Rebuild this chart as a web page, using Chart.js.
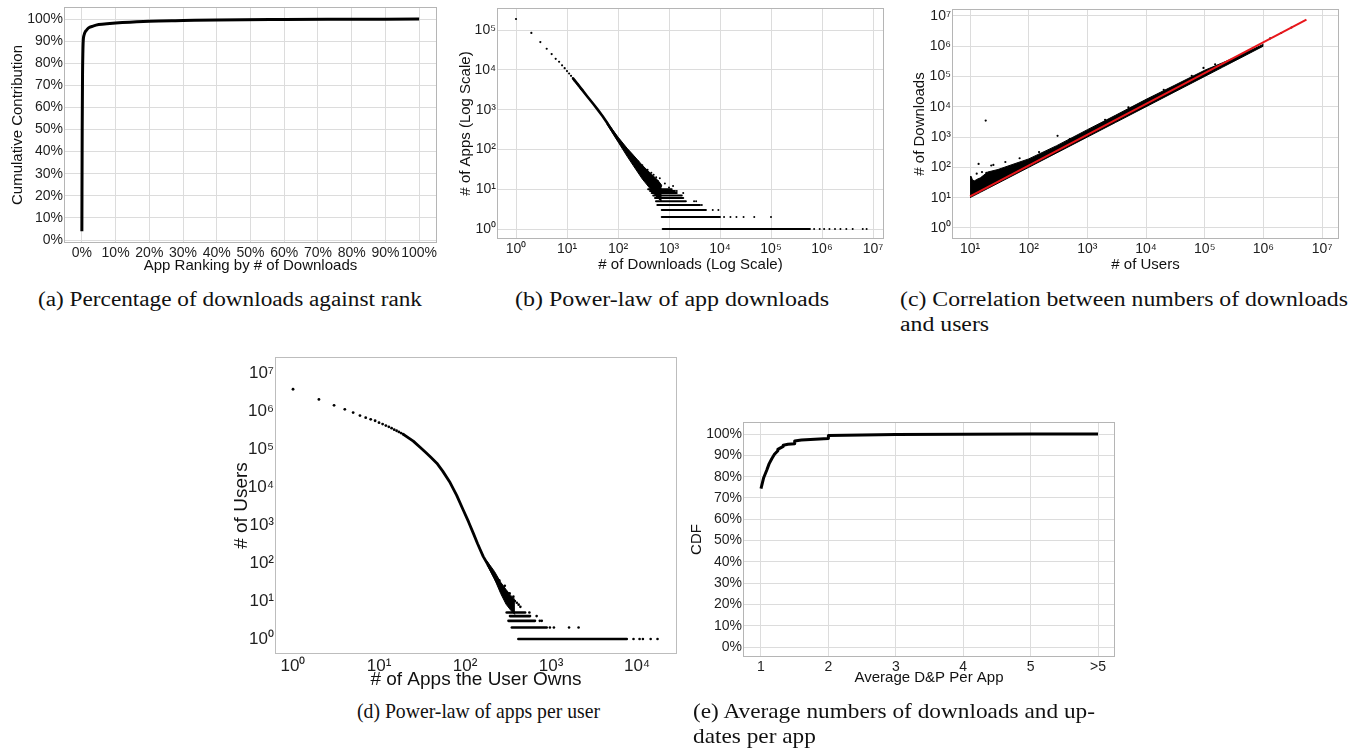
<!DOCTYPE html>
<html><head><meta charset="utf-8">
<script src="https://cdn.jsdelivr.net/npm/chart.js@4/dist/chart.umd.min.js"></script>
<style>
html,body{margin:0;padding:0;background:#fff;width:1359px;height:750px;overflow:hidden;position:relative}
canvas{position:absolute}
.cap{position:absolute;font-family:"Liberation Serif","Times New Roman",serif;font-size:20px;line-height:24px;color:#111;white-space:nowrap;transform-origin:0 0}
.cap.big{font-size:22px}
</style></head><body>
<canvas id="ca" width="445" height="285" style="left:0;top:0"></canvas>
<canvas id="cb" width="445" height="285" style="left:450px;top:0"></canvas>
<canvas id="cc" width="459" height="285" style="left:900px;top:0"></canvas>
<canvas id="cd" width="460" height="350" style="left:230px;top:345px"></canvas>
<canvas id="ce" width="450" height="285" style="left:680px;top:410px"></canvas>

<div class="cap" data-w="384" style="left:38px;top:287px">(a) Percentage of downloads against rank</div>
<div class="cap" data-w="314" style="left:515px;top:287px">(b) Power-law of app downloads</div>
<div class="cap" id="c1" data-w="448" style="left:900px;top:287px">(c) Correlation between numbers of downloads</div>
<div class="cap" data-ref="c1" style="left:900px;top:312px">and users</div>
<div class="cap big" data-w="243" style="left:357px;top:699px">(d) Power-law of apps per user</div>
<div class="cap big" id="e1" data-w="402" style="left:693px;top:699px">(e) Average numbers of downloads and up-</div>
<div class="cap big" data-ref="e1" style="left:693px;top:724px">dates per app</div>

<script>
// ---------- Panel (a): cumulative contribution ----------
const aTicks = [0,10,20,30,40,50,60,70,80,90,100];
const aRank = [0, 0.1, 0.2, 0.3, 0.4, 0.7, 1.0, 1.4, 2, 3.3, 5, 8.3, 12, 20, 30, 40, 60, 80, 100];
const aCum  = [4, 50, 75, 85, 90, 93, 94.2, 95, 96, 96.8, 97.5, 98, 98.4, 99, 99.3, 99.6, 99.8, 99.9, 100];

// ---------- Panel (b): power-law of app downloads ----------
const bTicksX = [1,10,100,1e3,1e4,1e5,1e6,1e7];
const bTicksY = [1,10,100,1e3,1e4,1e5];
const bHeadX = [1,2,3,4,5,6,7,8,9,10,11,12,13,14,15,16,17,18,19,20];
const bHeadY = [190000,85000,50000,34000,25000,19000,16000,13000,11000,9300,8100,7100,6200,5400,4900,4450,4000,3600,3300,3100];
const bCurveX = [13,16,20,25,32,40,50,63,79,100,126,158,200,250,316,400,500,630];
const bCurveY = [6200,4450,3100,2150,1450,1000,680,440,280,178,118,80,53,37,26,18,13,9.5];
const bBandX  = [60,100,150,200,300,450,600,720];
const bBandHi = [505,205,108,72,40,24,17,12.6];
const bBandLo = [440,155,68,39,18,9.5,6,5];
const bRowY    = [1,2,3,4,5,6,7,8,9,10];
const bRowFrom = [752,720,720,590,556,531,490,457,425,390];
const bRowTo   = [580000,10000,5300,4050,2140,1900,1780,1420,1310,1130];
const bDots = [[7e5,1],[9e5,1],[1.1e6,1],[1.4e6,1],[1.8e6,1],[2.3e6,1],[3e6,1],[4e6,1],[6.3e6,1],[7.5e6,1],
  [12000,2],[16000,2],[21000,2],[29000,2],[47000,2],[100000,2],[7200,3],[9300,3],[4400,4],[3100,5],[3400,5],
  [1900,8],[1420,9],[830,14],[660,19],[700,12],[600,16],[560,20],[500,23],[450,26],[380,31],[300,40],[250,50],[1000,11],[1200,12]];

// ---------- Panel (c): downloads vs users ----------
const cTicksX = [10,100,1e3,1e4,1e5,1e6,1e7];
const cTicksY = [1,10,100,1e3,1e4,1e5,1e6,1e7];
const cBandX  = [10,10.5,11,12,13,15,20,30,50,100,300,1000,3000,10000,30000,100000,200000,400000,1000000];
const cBandHi = [50,50,38,36,40,45,70,85,120,190,520,1750,5200,17500,50000,160000,280000,500000,1150000];
const cBandLo = [10,10.5,11,12,13,15,20,30,50,100,300,1000,3000,10000,30000,100000,200000,400000,1000000];
const cFitX = [10,5400000];
const cFitY = [11,7400000];
const cOutliers = [[18.5,3500],[14,130],[25,120],[23,115],[310,1100],[16,70],[13,62],[19,66],[95000,190000],
  [40,150],[70,200],[150,320],[500,850],[2000,3700],[5000,9500],[20000,36000],[60000,105000],[150000,250000],[1.3e6,1.8e6],[2e6,2.7e6],[3e6,4.1e6]];

// ---------- Panel (d): apps per user ----------
const dTicksX = [1,10,100,1e3,1e4];
const dTicksY = [1,10,100,1e3,1e4,1e5,1e6,1e7];
const dHeadX = [1,2,3,4,5,6,7,8,9,10,11,12,13,14,15,16,17,18,19];
const dHeadY = [3700000,2000000,1400000,1100000,900000,750000,660000,600000,550000,490000,450000,410000,380000,350000,320000,300000,280000,260000,245000];
const dCurveX = [19,25,30,35,40,47,55,67,80,95,110,125,140,163,185,200,230,260,300];
const dCurveY = [245000,160000,110000,80000,60000,42000,26000,13000,6000,2500,1200,600,320,147,90,65,35,22,13];
const dBandX  = [180,220,260,300,340,380];
const dBandHi = [112,60,31,20,14,11];
const dBandLo = [89,38,15.6,8.2,5.7,4.4];
const dRowY    = [1,2,3,4,5];
const dRowFrom = [417,350,320,333,305];
const dRowTo   = [7600,890,650,570,500];
const dDots = [[9100,1],[10700,1],[11700,1],[14400,1],[17300,1],[970,2],[1080,2],[1620,2],[2090,2],[740,3],[780,3],[680,4],[560,5],[365,13],[330,16],[400,9],[420,8],[380,10],[440,7],[290,25],[250,35]];

// ---------- Panel (e): average D&P per app ----------
const eTicks = [1,2,3,4,5,6];
const eTickLabels = ['1','2','3','4','5','>5'];
const ePctTicks = [0,10,20,30,40,50,60,70,80,90,100];
const eX = [1,1.04,1.085,1.12,1.16,1.2,1.25,1.25,1.33,1.33,1.4,1.5,1.5,1.6,1.8,2.0,2.0,2.5,3.0,4.0,5.0,6.0];
const eY = [74.4,79.5,83,86,88.4,90.5,92.2,92.8,94.2,94.8,95.2,95.5,96.8,97.2,97.6,97.9,99.3,99.6,99.8,99.9,100,100];

// ---------- helpers ----------
const FONT = '"Liberation Sans", Arial, Helvetica, sans-serif';
const SUP = ['\u2070','\u00b9','\u00b2','\u00b3','\u2074','\u2075','\u2076','\u2077','\u2078','\u2079'];
const powLabel = v => '10' + String(Math.round(Math.log10(v))).split('').map(d => SUP[+d]).join('');
const pctLabel = v => v + '%';
const pts = (xs, ys) => xs.map((x, i) => ({x, y: ys[i]}));
const pairs = arr => arr.map(p => ({x: p[0], y: p[1]}));

function axis(o) {
  return {
    type: o.type, min: o.min, max: o.max, bounds: 'data',
    position: o.isY ? 'left' : 'bottom',
    afterBuildTicks: s => { s.ticks = o.ticks.map(v => ({value: v})); },
    afterFit: s => {
      if (o.isY) s.width = o.size; else s.height = o.size;
      s.paddingTop = s.paddingBottom = s.paddingLeft = s.paddingRight = 0;
    },
    ticks: {autoSkip: false, maxRotation: 0, minRotation: 0, padding: o.kPad, color: '#1e1e1e',
      font: {family: FONT, size: o.kFont}, callback: (v, i) => o.labels(o.ticks[i], i)},
    grid: {display: o.grid, color: '#dcdcdc', lineWidth: 1, drawTicks: false},
    border: {display: false},
    title: {display: true, text: o.title, color: '#111', font: {family: FONT, size: o.tFont},
      padding: o.isY ? {top: o.tPad, bottom: 0} : {top: 0, bottom: o.tPad}}
  };
}
const boxPlugin = color => ({
  id: 'box',
  afterDatasetsDraw(chart) {
    const a = chart.chartArea, c = chart.ctx;
    c.save(); c.strokeStyle = color; c.lineWidth = 1;
    c.strokeRect(Math.round(a.left) - 0.5, Math.round(a.top) - 0.5, Math.round(a.right - a.left) + 1, Math.round(a.bottom - a.top) + 1);
    c.restore();
  }
});
const lineDs = (data, w, color, order, extra) => Object.assign({data, borderColor: color || '#000', borderWidth: w, pointRadius: 0,
  fill: false, tension: 0, showLine: true, borderJoinStyle: 'round', order}, extra || {});
const dotDs = (data, r, order) => ({data, showLine: false, pointRadius: r, pointBorderWidth: 0, pointBackgroundColor: '#000', borderColor: '#000', order});
const bandDs = (xs, lo, hi) => [
  lineDs(pts(xs, lo), 1, '#000', 10),
  lineDs(pts(xs, hi), 1, '#000', 10, {fill: '-1', backgroundColor: '#000'})
];
const rowDs = (ys, from, to, w) => ys.map((y, i) => lineDs([{x: from[i], y}, {x: to[i], y}], w, '#000', 6, {borderCapStyle: 'round'}));

function make(id, datasets, xAxis, yAxis, pad, border) {
  return new Chart(document.getElementById(id), {
    type: 'line',
    data: {datasets},
    options: {
      responsive: false, animation: false, events: [],
      layout: {padding: {top: pad.top, right: pad.right, left: 0, bottom: 0}},
      plugins: {legend: {display: false}, tooltip: {enabled: false}},
      scales: {x: xAxis, y: yAxis}
    },
    plugins: [boxPlugin(border)]
  });
}

// (a)
make('ca', [lineDs(pts(aRank, aCum), 3, '#000', 1, {cubicInterpolationMode: 'monotone'})],
  axis({type: 'linear', min: -5, max: 105, ticks: aTicks, labels: pctLabel, size: 43, isY: false,
    title: 'App Ranking by # of Downloads', tFont: 15, tPad: 10, kFont: 14, kPad: 3, grid: true}),
  axis({type: 'linear', min: -0.9, max: 105, ticks: aTicks, labels: pctLabel, size: 65, isY: true,
    title: 'Cumulative Contribution', tFont: 15, tPad: 8.5, kFont: 14, kPad: 2, grid: true}),
  {top: 8, right: 9}, '#b5b5b5');

// (b)
make('cb', [
    ...bandDs(bBandX, bBandLo, bBandHi),
    lineDs(pts(bCurveX, bCurveY), 2.6, '#000', 8),
    ...rowDs(bRowY, bRowFrom, bRowTo, 2.0),
    dotDs(pts(bHeadX, bHeadY), 1.1, 4),
    dotDs(pairs(bDots), 1.0, 4)
  ],
  axis({type: 'logarithmic', min: Math.pow(10, -0.353), max: Math.pow(10, 7.196), ticks: bTicksX, labels: powLabel, size: 47, isY: false,
    title: '# of Downloads (Log Scale)', tFont: 15, tPad: 11, kFont: 14, kPad: 3, grid: true}),
  axis({type: 'logarithmic', min: Math.pow(10, -0.226), max: Math.pow(10, 5.53), ticks: bTicksY, labels: powLabel, size: 48, isY: true,
    title: '# of Apps (Log Scale)', tFont: 15, tPad: 7, kFont: 14, kPad: 2, grid: true}),
  {top: 9, right: 12}, '#b5b5b5');

// (c)
make('cc', [
    ...bandDs(cBandX, cBandLo, cBandHi),
    dotDs(pairs(cOutliers), 1.1, 4),
    lineDs(pts(cFitX, cFitY), 2, '#e8161b', 1)
  ],
  axis({type: 'logarithmic', min: Math.pow(10, 0.71), max: Math.pow(10, 7.27), ticks: cTicksX, labels: powLabel, size: 47, isY: false,
    title: '# of Users', tFont: 15, tPad: 11.5, kFont: 14, kPad: 3, grid: true}),
  axis({type: 'logarithmic', min: Math.pow(10, -0.33), max: Math.pow(10, 7.19), ticks: cTicksY, labels: powLabel, size: 53, isY: true,
    title: '# of Downloads', tFont: 15, tPad: 11, kFont: 14, kPad: 2, grid: true}),
  {top: 10, right: 21}, '#b5b5b5');

// (d)
make('cd', [
    ...bandDs(dBandX, dBandLo, dBandHi),
    lineDs(pts(dCurveX, dCurveY), 2.8, '#000', 8),
    ...rowDs(dRowY, dRowFrom, dRowTo, 2.6),
    dotDs(pts(dHeadX, dHeadY), 1.4, 4),
    dotDs(pairs(dDots), 1.3, 4)
  ],
  axis({type: 'logarithmic', min: Math.pow(10, -0.198), max: Math.pow(10, 4.453), ticks: dTicksX, labels: powLabel, size: 42, isY: false,
    title: '# of Apps the User Owns', tFont: 19, tPad: 3.6, kFont: 17, kPad: 3, grid: false}),
  axis({type: 'logarithmic', min: Math.pow(10, -0.368), max: Math.pow(10, 7.39), ticks: dTicksY, labels: powLabel, size: 46, isY: true,
    title: '# of Users', tFont: 19, tPad: 0.6, kFont: 17, kPad: 2, grid: false}),
  {top: 13, right: 14}, '#bdbdbd');

// (e)
make('ce', [lineDs(pts(eX, eY), 3, '#000', 1)],
  axis({type: 'linear', min: 0.748, max: 6.237, ticks: eTicks, labels: (v, i) => eTickLabels[i], size: 39, isY: false,
    title: 'Average D&P Per App', tFont: 15, tPad: 8.3, kFont: 14, kPad: 3, grid: true}),
  axis({type: 'linear', min: -4.2, max: 105.2, ticks: ePctTicks, labels: pctLabel, size: 64, isY: true,
    title: 'CDF', tFont: 15, tPad: 8, kFont: 14, kPad: 2, grid: true}),
  {top: 13, right: 16}, '#b5b5b5');

// captions: fit widths
function fitCaps() {
  const scales = {};
  document.querySelectorAll('.cap[data-w]').forEach(el => {
    const w = el.getBoundingClientRect().width;
    const s = (+el.dataset.w) / w;
    el.style.transform = 'scaleX(' + s + ')';
    if (el.id) scales[el.id] = s;
  });
  document.querySelectorAll('.cap[data-ref]').forEach(el => {
    el.style.transform = 'scaleX(' + (scales[el.dataset.ref] || 1) + ')';
  });
}
fitCaps();
</script>
</body></html>
